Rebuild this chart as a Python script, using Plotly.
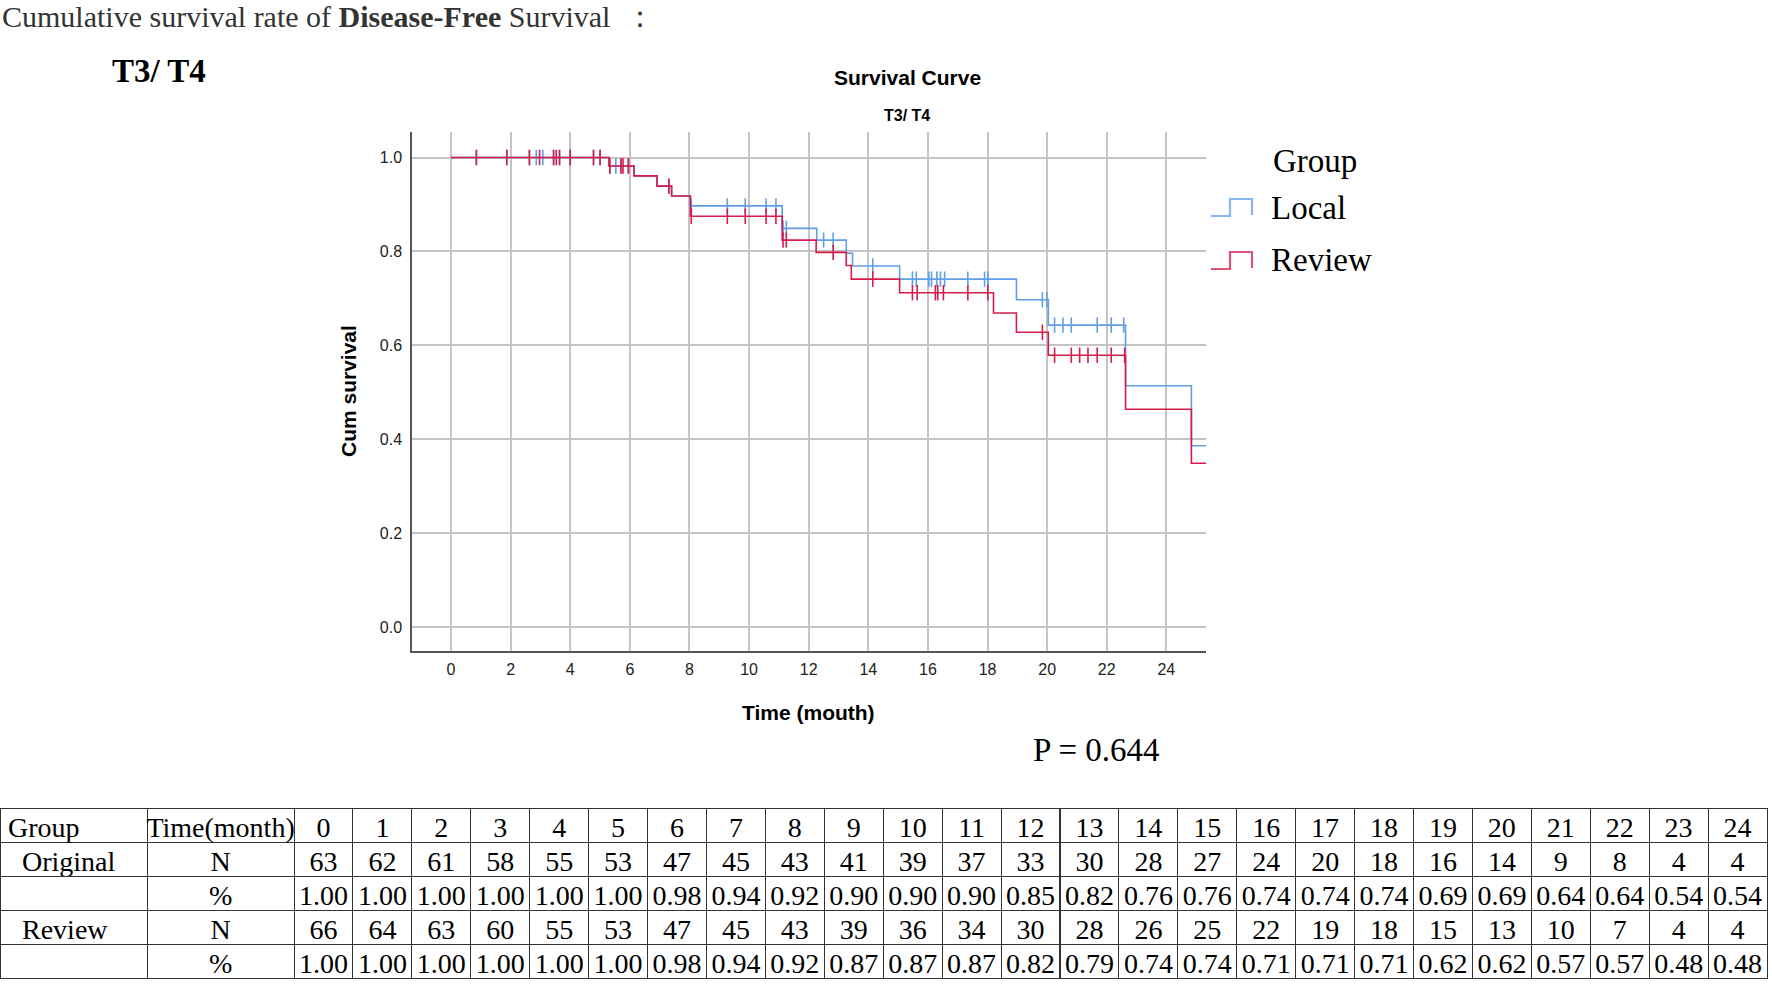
import numpy as np
import plotly.graph_objects as go

W, H = 1772, 987

# ---------------- data ----------------
local_t = [0, 5.30, 6.14, 6.91, 7.40, 8.03, 11.11, 12.27, 13.26, 13.47, 15.05, 18.97, 20.04, 22.63, 24.84, 25.34]
local_s = [1.0, 0.982, 0.961, 0.939, 0.918, 0.897, 0.849, 0.824, 0.796, 0.769, 0.741, 0.697, 0.643, 0.514, 0.386, 0.386]
local_cens = [0.85, 1.87, 2.63, 2.86, 3.08, 3.44, 3.64, 4.0, 4.78, 5.0,
              5.33, 5.53, 5.70, 5.95, 7.31, 8.06, 9.27, 9.87, 10.57, 10.9,
              11.14, 11.25, 12.50, 12.82, 14.15,
              15.48, 15.61, 16.03, 16.12, 16.30, 16.42, 16.56, 17.34, 17.90, 18.01,
              19.84, 19.99, 20.25, 20.53, 20.81, 21.68, 22.15, 22.57]

review_t = [0, 5.30, 6.14, 6.91, 7.40, 8.03, 11.11, 12.25, 13.26, 13.43, 15.05, 18.20, 18.97, 20.04, 22.63, 24.84, 25.34]
review_s = [1.0, 0.982, 0.961, 0.939, 0.918, 0.875, 0.824, 0.798, 0.770, 0.741, 0.712, 0.669, 0.628, 0.579, 0.464, 0.349, 0.349]
review_cens = [0.85, 1.87, 2.63, 2.97, 3.44, 3.53, 3.64, 4.0, 4.78, 5.0,
               5.33, 5.70, 5.77, 5.95, 7.31, 8.06, 9.27, 9.87, 10.57, 10.9,
               11.14, 11.25, 12.82, 14.15,
               15.48, 15.64, 16.25, 16.33, 16.52, 17.34, 18.01,
               19.84, 20.25, 20.81, 21.09, 21.37, 21.68, 22.15, 22.60]

x_ticks = list(range(0, 25, 2))
y_ticks = [0.0, 0.2, 0.4, 0.6, 0.8, 1.0]

months = [str(m) for m in range(25)]
orig_n = [63, 62, 61, 58, 55, 53, 47, 45, 43, 41, 39, 37, 33, 30, 28, 27, 24, 20, 18, 16, 14, 9, 8, 4, 4]
orig_pct = ["1.00", "1.00", "1.00", "1.00", "1.00", "1.00", "0.98", "0.94", "0.92", "0.90", "0.90", "0.90", "0.85",
            "0.82", "0.76", "0.76", "0.74", "0.74", "0.74", "0.69", "0.69", "0.64", "0.64", "0.54", "0.54"]
rev_n = [66, 64, 63, 60, 55, 53, 47, 45, 43, 39, 36, 34, 30, 28, 26, 25, 22, 19, 18, 15, 13, 10, 7, 4, 4]
rev_pct = ["1.00", "1.00", "1.00", "1.00", "1.00", "1.00", "0.98", "0.94", "0.92", "0.87", "0.87", "0.87", "0.82",
           "0.79", "0.74", "0.74", "0.71", "0.71", "0.71", "0.62", "0.62", "0.57", "0.57", "0.48", "0.48"]

BLUE = "#5f9fe6"
RED = "#d61a4b"


def step_at(ts, ss, x):
    idx = np.searchsorted(np.array(ts), np.array(x), side="right") - 1
    return list(np.array(ss)[idx])


fig = go.Figure()

for ts, ss, cens, col, name in [(local_t, local_s, local_cens, BLUE, "Local"),
                                (review_t, review_s, review_cens, RED, "Review")]:
    fig.add_trace(go.Scatter(x=ts, y=ss, mode="lines", line=dict(shape="hv", color=col, width=1.6),
                             name=name, showlegend=False, hoverinfo="skip"))
    fig.add_trace(go.Scatter(x=cens, y=step_at(ts, ss, cens), mode="markers",
                             marker=dict(symbol="line-ns", size=11, line=dict(color=col, width=1.6)),
                             showlegend=False, hoverinfo="skip"))

# ---------------- table ----------------
header_vals = ["Group", "Time(month)"] + months
col_cells = [["\u00a0\u00a0Original", "", "\u00a0\u00a0Review", ""], ["N", "%", "N", "%"]]
for i in range(25):
    col_cells.append([str(orig_n[i]), orig_pct[i], str(rev_n[i]), rev_pct[i]])

fnt_tab = dict(family="Liberation Serif", size=28, color="black")
aligns = ["left"] + ["center"] * 26
fig.add_trace(go.Table(
    domain=dict(x=[0, 1767 / W], y=[0, 1 - 808 / H]),
    columnwidth=[147, 147] + [58.9] * 25,
    header=dict(values=header_vals, align=aligns, font=fnt_tab, height=34,
                line=dict(color="#333333", width=1), fill=dict(color="white")),
    cells=dict(values=col_cells, align=aligns, font=fnt_tab, height=34,
               line=dict(color="#333333", width=1), fill=dict(color="white")),
))

# ---------------- layout ----------------
x0, x1 = 412, 1206
yt, yb = 131.7, 651
fig.update_layout(
    width=W, height=H, margin=dict(l=0, r=0, t=0, b=0),
    paper_bgcolor="white", plot_bgcolor="white",
    xaxis=dict(domain=[x0 / W, x1 / W], range=[-1.31, 25.33], tickvals=x_ticks,
               showgrid=True, gridcolor="#c4c4c4", gridwidth=1.5, zeroline=False,
               showline=True, linecolor="#555555", linewidth=1.5, ticks="",
               tickfont=dict(family="Liberation Sans", size=16, color="#222"), ticklabelstandoff=3),
    yaxis=dict(domain=[1 - yb / H, 1 - yt / H], range=[-0.051, 1.055], tickvals=y_ticks,
               tickformat=".1f",
               showgrid=True, gridcolor="#c4c4c4", gridwidth=1.5, zeroline=False,
               showline=True, linecolor="#555555", linewidth=1.5, ticks="",
               tickfont=dict(family="Liberation Sans", size=16, color="#222"), ticklabelstandoff=5),
    showlegend=False,
)


def ann(text, px, py, size, family="Liberation Serif", xanchor="center", textangle=0, color="black"):
    fig.add_annotation(text=text, x=px / W, y=1 - py / H, xref="paper", yref="paper",
                       xanchor=xanchor, yanchor="middle", showarrow=False, textangle=textangle,
                       font=dict(family=family, size=size, color=color))


ann("Cumulative survival rate of <b>Disease-Free</b> Survival  ：", 0, 16, 30, xanchor="left", color="#333")
ann("<b>T3/ T4</b>", 110, 71, 33, xanchor="left")
ann("<b>Survival Curve</b>", 907, 77, 21, family="Liberation Sans")
ann("<b>T3/ T4</b>", 907, 115, 16, family="Liberation Sans")
ann("<b>Cum survival</b>", 349, 391, 21, family="Liberation Sans", textangle=-90)
ann("<b>Time (mouth)</b>", 808, 712, 21, family="Liberation Sans")
ann("P = 0.644", 1096, 750, 33)
ann("Group", 1271, 161, 33, xanchor="left")
ann("Local", 1269, 208, 33, xanchor="left")
ann("Review", 1269, 260, 33, xanchor="left")

# legend glyphs (step-shaped)
for (ylow, yhigh, col) in [(216, 199, BLUE), (269, 252, RED)]:
    pts = [(1211, ylow), (1230, ylow), (1230, yhigh), (1252, yhigh), (1252, ylow - 1)]
    path = "M " + " L ".join(f"{px / W:.5f},{1 - py / H:.5f}" for px, py in pts)
    fig.add_shape(type="path", path=path, xref="paper", yref="paper",
                  line=dict(color=col, width=2.2), opacity=0.75)

fig.write_html("out.html", config={"displayModeBar": False},
               post_script="document.body.style.margin='0';")
